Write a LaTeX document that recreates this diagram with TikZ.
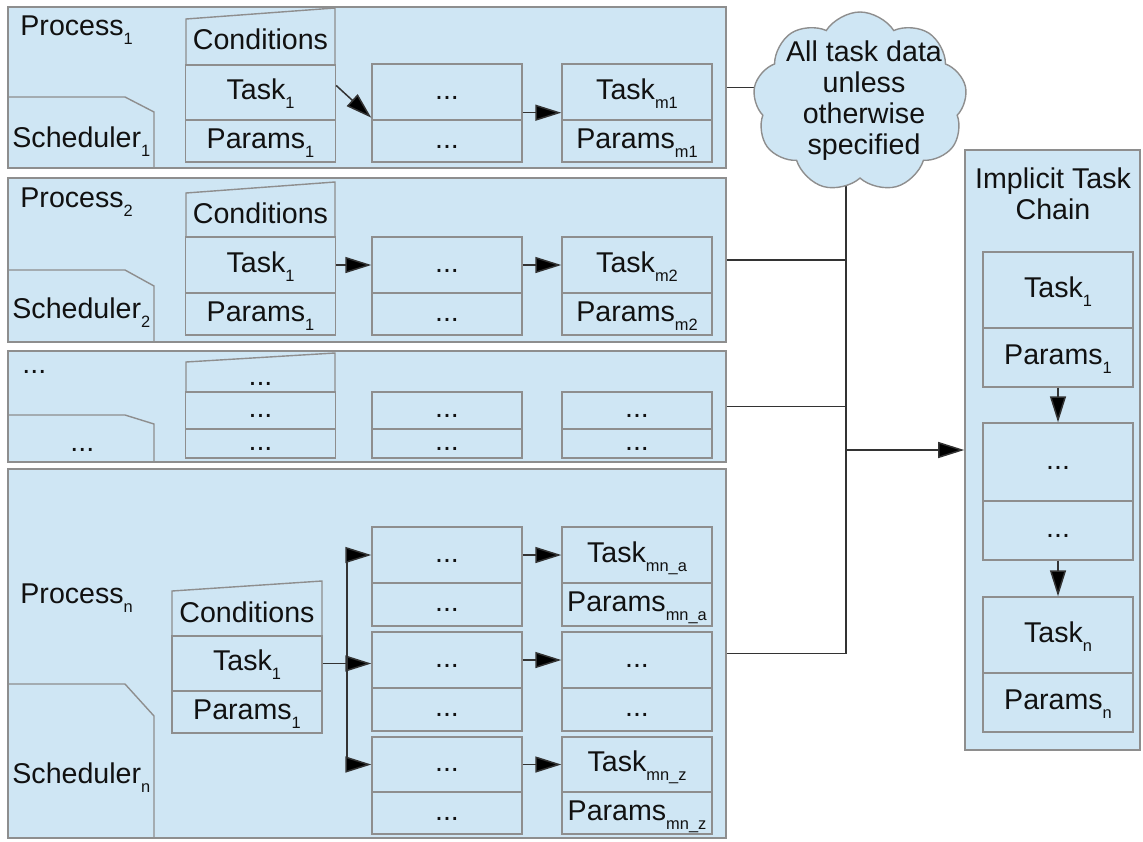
\documentclass[tikz,border=0pt]{standalone}
\usepackage{fontspec}
\setmainfont{Liberation Sans}
\usetikzlibrary{arrows.meta}
\usetikzlibrary{shapes.symbols}
\definecolor{bl}{HTML}{CFE6F4}
\definecolor{gy}{HTML}{8E8E8E}
\definecolor{ln}{HTML}{333333}
\definecolor{tx}{HTML}{111111}
\newcommand{\lowsub}[1]{\raisebox{-0.33em}{\fontsize{8.2}{9}\selectfont #1}}

\tikzset{
  panel/.style = {draw=gy, fill=bl, line width=0.8pt, inner sep=0pt},
  cell/.style  = {draw=gy, fill=bl, line width=0.7pt, inner sep=0pt, minimum width=75pt, text height=10.5pt, text depth=3.5pt},
  lbl/.style   = {inner sep=0pt, anchor=base west},
  rim/.style   = {draw=gy, line width=0.7pt},
  wire/.style  = {draw=ln, line width=0.75pt},
  flow/.style  = {draw=ln, line width=0.75pt, -{Triangle[length=13pt,width=8pt,fill=black]}},
  cloudy/.style = {cloud, cloud puffs=9, cloud puff arc=115, aspect=1.2, draw=gy, fill=bl, line width=0.7pt, minimum width=107pt, minimum height=90pt, inner sep=0pt},
}

\begin{document}
\begin{tikzpicture}[x=0.5pt, y=-0.5pt, font=\fontsize{14.3}{15.5}\selectfont, text=tx]
  \useasboundingbox (0,0) rectangle (1143,841);

  % panels
  \node[panel, minimum width=359pt, minimum height=80.5pt] (proc1) at (367,87.5) {};
  \node[panel, minimum width=359pt, minimum height=82pt] (proc2) at (367,260) {};
  \node[panel, minimum width=359pt, minimum height=55.5pt] (proc3) at (367,406.5) {};
  \node[panel, minimum width=359pt, minimum height=184.5pt] (procn) at (367,653.5) {};
  \node[panel, minimum width=87.5pt, minimum height=300pt] (chain) at (1052.5,450) {};

  % schedulers
  \draw[rim] (8,97) -- (125,97) -- (154,112) -- (154,168);
  \draw[rim] (8,270) -- (125,270) -- (154,286) -- (154,342);
  \draw[rim] (8,415) -- (125,415) -- (154,424) -- (154,462);
  \draw[rim] (8,684) -- (125,684) -- (154,716) -- (154,838);

  \node[lbl] (p1lbl) at (20,35) {Process\lowsub{1}};
  \node[lbl] (s1lbl) at (12,147) {Scheduler\lowsub{1}};
  \node[lbl] (p2lbl) at (20,207) {Process\lowsub{2}};
  \node[lbl] (s2lbl) at (12,318) {Scheduler\lowsub{2}};
  \node[lbl] (p3lbl) at (22,373) {...};
  \node[lbl] (s3lbl) at (70,451) {...};
  \node[lbl] (pnlbl) at (20,603) {Process\lowsub{n}};
  \node[lbl] (snlbl) at (12,783) {Scheduler\lowsub{n}};

  % conditions
  \draw[rim, fill=bl] (186,65) -- (186,19) -- (335,8) -- (335,65);
  \draw[rim, fill=bl] (186,237) -- (186,193) -- (335,182) -- (335,237);
  \draw[rim, fill=bl] (186,392) -- (186,362) -- (335,353) -- (335,392);
  \draw[rim, fill=bl] (172,636) -- (172,591) -- (322,581) -- (322,636);
  \node[cell, draw=none, fill=none] (cond1) at (260.5,42.5) {Conditions};
  \node[cell, draw=none, fill=none] (cond2) at (260.5,216) {Conditions};
  \node[cell, draw=none, fill=none] (cond3) at (260.5,378) {...};
  \node[cell, draw=none, fill=none] (condn) at (247,615) {Conditions};

  % process 1
  \node[cell, minimum height=27.5pt] (task11) at (260.5,92.5) {Task\lowsub{1}};
  \node[cell, minimum height=21pt] (par11) at (260.5,141) {Params\lowsub{1}};
  \node[cell, minimum height=28pt] (mid1a) at (447,92) {...};
  \node[cell, minimum height=21pt] (mid1b) at (447,141) {...};
  \node[cell, minimum height=28pt] (tm1) at (637,92) {Task\lowsub{m1}};
  \node[cell, minimum height=21pt] (pm1) at (637,141) {Params\lowsub{m1}};
  \draw[flow] ([yshift=3.5pt]task11.east) -- ([yshift=1.5pt]mid1a.south west);
  \draw[flow] ([yshift=4pt]mid1a.south east) -- ([yshift=4pt]tm1.south west);

  % process 2
  \node[cell, minimum height=28pt] (task21) at (260.5,265) {Task\lowsub{1}};
  \node[cell, minimum height=21pt] (par21) at (260.5,314) {Params\lowsub{1}};
  \node[cell, minimum height=28pt] (mid2a) at (447,265) {...};
  \node[cell, minimum height=21pt] (mid2b) at (447,314) {...};
  \node[cell, minimum height=28pt] (tm2) at (637,265) {Task\lowsub{m2}};
  \node[cell, minimum height=21pt] (pm2) at (637,314) {Params\lowsub{m2}};
  \draw[flow] (task21.east) -- (mid2a.west);
  \draw[flow] (mid2a.east) -- (tm2.west);

  % process ...
  \node[cell, minimum height=18.5pt] (task31) at (260.5,410.5) {...};
  \node[cell, minimum height=14.5pt] (par31) at (260.5,443.5) {...};
  \node[cell, minimum height=18.5pt] (mid3a) at (447,410.5) {...};
  \node[cell, minimum height=14.5pt] (mid3b) at (447,443.5) {...};
  \node[cell, minimum height=18.5pt] (tm3) at (637,410.5) {...};
  \node[cell, minimum height=14.5pt] (pm3) at (637,443.5) {...};

  % process n
  \node[cell, minimum height=27.5pt] (taskn1) at (247,663.5) {Task\lowsub{1}};
  \node[cell, minimum height=21pt] (parn1) at (247,712) {Params\lowsub{1}};
  \node[cell, minimum height=28pt] (na1) at (447,555) {...};
  \node[cell, minimum height=21.5pt] (na2) at (447,604.5) {...};
  \node[cell, minimum height=28pt] (nb1) at (447,660) {...};
  \node[cell, minimum height=21.5pt] (nb2) at (447,709.5) {...};
  \node[cell, minimum height=27.5pt] (nc1) at (447,764.5) {...};
  \node[cell, minimum height=21pt] (nc2) at (447,813) {...};
  \node[cell, minimum height=28pt] (ra1) at (637,555) {Task\lowsub{mn\_a}};
  \node[cell, minimum height=21.5pt] (ra2) at (637,604.5) {Params\lowsub{mn\_a}};
  \node[cell, minimum height=28pt] (rb1) at (637,660) {...};
  \node[cell, minimum height=21.5pt] (rb2) at (637,709.5) {...};
  \node[cell, minimum height=27.5pt] (rc1) at (637,764.5) {Task\lowsub{mn\_z}};
  \node[cell, minimum height=21pt] (rc2) at (637,813) {Params\lowsub{mn\_z}};

  \coordinate (fork) at (347,0);
  \draw[flow] (taskn1.east) -- (taskn1.east -| nb1.west);
  \draw[wire] (fork |- na1.west) -- (fork |- nc1.west);
  \draw[flow] (fork |- na1.west) -- (na1.west);
  \draw[flow] (fork |- nc1.west) -- (nc1.west);
  \draw[flow] (na1.east) -- (ra1.west);
  \draw[flow] (nb1.east) -- (rb1.west);
  \draw[flow] (nc1.east) -- (rc1.west);

  % shared data
  \coordinate (cloudc) at (860,102);
  \coordinate (trunk) at (846,0);
  \draw[wire] (proc1.east) -- (proc1.east -| cloudc);
  \draw[wire] (trunk |- cloudc) -- (trunk |- procn.east);
  \draw[wire] (proc2.east) -- (proc2.east -| trunk);
  \draw[wire] (proc3.east) -- (proc3.east -| trunk);
  \draw[wire] (procn.east) -- (procn.east -| trunk);
  \node[cloudy] (cloud) at (cloudc) {};
  \node[align=center, inner sep=0pt] (cloudtxt) at (864,101) {All task data\\unless\\otherwise\\specified};
  \draw[flow] (trunk |- chain.west) -- (chain.west);

  % implicit chain
  \node[align=center, inner sep=0pt, anchor=north] (chaintl) at (1053,167) {Implicit Task\\Chain};
  \node[cell, minimum height=38pt] (c1a) at (1058,290) {Task\lowsub{1}};
  \node[cell, minimum height=29.5pt] (c1b) at (1058,357.5) {Params\lowsub{1}};
  \node[cell, minimum height=39pt] (c2a) at (1058,462) {...};
  \node[cell, minimum height=29.5pt] (c2b) at (1058,530.5) {...};
  \node[cell, minimum height=38pt] (c3a) at (1058,635) {Task\lowsub{n}};
  \node[cell, minimum height=29.5pt] (c3b) at (1058,702.5) {Params\lowsub{n}};
  \draw[flow] (c1b.south) -- (c2a.north);
  \draw[flow] (c2b.south) -- (c3a.north);
\end{tikzpicture}
\end{document}
